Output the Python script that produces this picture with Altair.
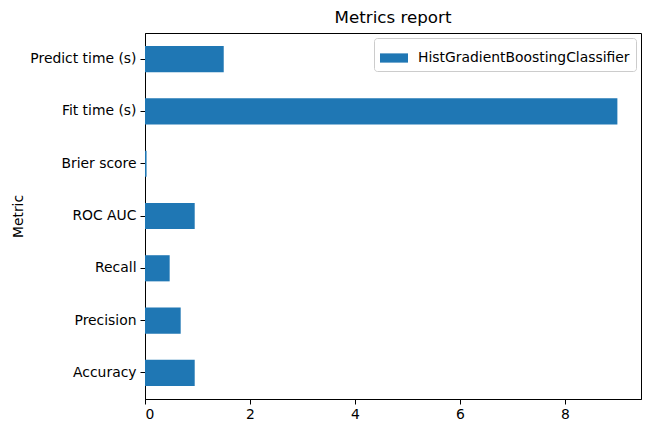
import altair as alt
import pandas as pd

metrics = ["Predict time (s)", "Fit time (s)", "Brier score", "ROC AUC", "Recall", "Precision", "Accuracy"]
values = [1.50, 9.00, 0.03, 0.947, 0.47, 0.68, 0.947]
series = "HistGradientBoostingClassifier"
x_ticks = [0, 2, 4, 6, 8]

df = pd.DataFrame({"Metric": metrics, "Value": values, "Model": [series] * len(metrics)})

font = "DejaVu Sans"
fs = 13.9

chart = alt.Chart(df).mark_bar(color="#1f77b4").encode(
    y=alt.Y("Metric:N", sort=metrics,
            scale=alt.Scale(paddingInner=0.5, paddingOuter=0.25),
            axis=alt.Axis(title="Metric", titleFont=font, titleFontSize=fs, titleFontWeight="normal",
                          titleColor="black", titlePadding=4,
                          labelFont=font, labelFontSize=fs, labelColor="black",
                          tickColor="black", tickSize=5, labelPadding=4, labelLimit=300,
                          domainColor="black", grid=False)),
    x=alt.X("Value:Q",
            scale=alt.Scale(domain=[0, 9.45], nice=False, zero=True),
            axis=alt.Axis(title=None, values=x_ticks, format="d",
                          labelFont=font, labelFontSize=fs, labelColor="black",
                          tickColor="black", tickSize=5, labelPadding=3,
                          domainColor="black", grid=False)),
    color=alt.Color("Model:N", scale=alt.Scale(range=["#1f77b4"]),
                    legend=alt.Legend(title=None, orient="top-right", offset=5,
                                      labelFont=font, labelFontSize=fs, labelColor="black",
                                      labelLimit=400,
                                      symbolType="M-1,-0.33H1V0.33H-1Z", symbolSize=784,
                                      symbolStrokeWidth=0, symbolOpacity=1,
                                      fillColor="white", strokeColor="#cccccc",
                                      padding=6, cornerRadius=3, labelOffset=10)),
).properties(
    width=496, height=366,
    title=alt.TitleParams("Metrics report", font=font, fontSize=16.7, fontWeight="normal",
                          color="black", offset=6),
    autosize=alt.AutoSizeParams(type="none"),
    padding={"left": 137, "top": 25, "right": 2, "bottom": 28},
).configure_view(stroke="black", strokeWidth=1)

chart.save("out.html", embed_options={"renderer": "svg", "actions": False})
